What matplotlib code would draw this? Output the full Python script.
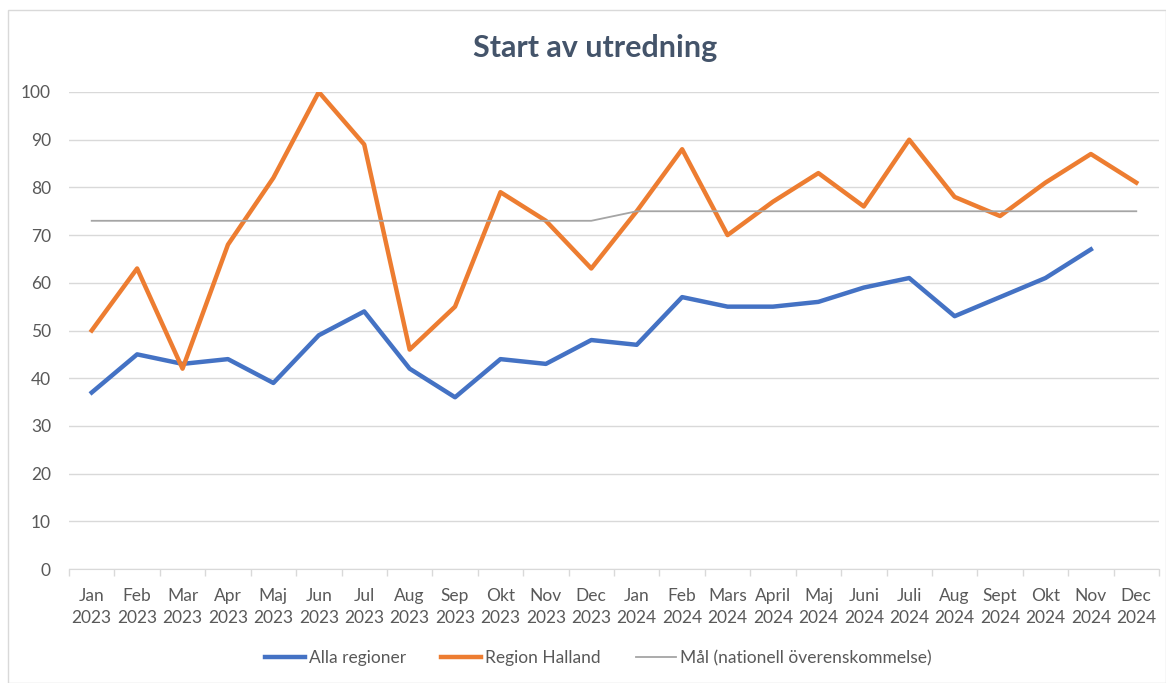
import matplotlib.pyplot as plt
from matplotlib.patches import Rectangle

plt.rcParams["font.family"] = ["Lato", "DejaVu Sans"]

months = ["Jan\n2023", "Feb\n2023", "Mar\n2023", "Apr\n2023", "Maj\n2023", "Jun\n2023",
          "Jul\n2023", "Aug\n2023", "Sep\n2023", "Okt\n2023", "Nov\n2023", "Dec\n2023",
          "Jan\n2024", "Feb\n2024", "Mars\n2024", "April\n2024", "Maj\n2024", "Juni\n2024",
          "Juli\n2024", "Aug\n2024", "Sept\n2024", "Okt\n2024", "Nov\n2024", "Dec\n2024"]

alla_regioner = [37, 45, 43, 44, 39, 49, 54, 42, 36, 44, 43, 48,
                 47, 57, 55, 55, 56, 59, 61, 53, 57, 61, 67]
region_halland = [50, 63, 42, 68, 82, 100, 89, 46, 55, 79, 73, 63,
                  75, 88, 70, 77, 83, 76, 90, 78, 74, 81, 87, 81]
mal = [73] * 12 + [75] * 12

fig = plt.figure(figsize=(11.66, 6.83), dpi=100)
fig.patches.append(Rectangle((0.007, 0.0), 0.993, 0.985, transform=fig.transFigure,
                             fill=False, edgecolor="#D9D9D9", linewidth=1))
ax = fig.add_axes([69 / 1166, 1 - 569 / 683, (1159 - 69) / 1166, (569 - 92) / 683])

x = list(range(len(months)))
ax.plot(x[:len(alla_regioner)], alla_regioner, color="#4472C4", linewidth=3.2,
        label="Alla regioner", solid_joinstyle="round")
ax.plot(x, region_halland, color="#ED7D31", linewidth=3.2, label="Region Halland",
        solid_joinstyle="round")
ax.plot(x, mal, color="#A5A5A5", linewidth=1.3, label="Mål (nationell överenskommelse)")

ax.set_xlim(-0.5, len(months) - 0.5)
ax.set_ylim(0, 100)
ax.set_yticks(range(0, 101, 10))
ax.set_xticks(x)
ax.set_xticklabels(months)
ax.set_xticks([i - 0.5 for i in range(len(months) + 1)], minor=True)
ax.tick_params(axis="x", which="major", length=0, pad=14, labelsize=12.5, colors="#595959")
ax.tick_params(axis="x", which="minor", length=5, color="#D9D9D9", width=1)
ax.tick_params(axis="y", length=0, pad=13, labelsize=12.5, colors="#595959")
for lab in ax.get_xticklabels():
    lab.set_linespacing(1.45)

ax.grid(axis="y", color="#D9D9D9", linewidth=1)
ax.set_axisbelow(True)
for side in ["top", "right", "left"]:
    ax.spines[side].set_visible(False)
ax.spines["bottom"].set_color("#D9D9D9")

fig.text(0.51, 1 - 48 / 683, "Start av utredning", ha="center", va="center",
         fontsize=22, fontweight="bold", color="#44546A")

fig.legend(loc="center", bbox_to_anchor=(0.513, 1 - 658 / 683), ncol=3, frameon=False,
           fontsize=12.5, labelcolor="#595959", handlelength=2.3, handletextpad=0.25,
           columnspacing=2.0)

fig.savefig("out.png", dpi=100)
